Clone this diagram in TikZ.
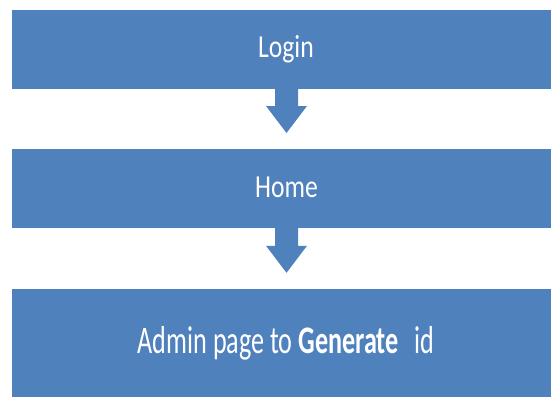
\documentclass[tikz,border=0pt]{standalone}
\usepackage{fontspec}
\usepackage{graphicx}
\setmainfont{Carlito}
\usetikzlibrary{calc}
\definecolor{boxblue}{HTML}{4F81BD}
\newcommand\blockarrowfrom[1]{%
  \fill[boxblue] ($(#1.south)+(-11.5,-1)$) -- ($(#1.south)+(-11.5,17.5)$)
    -- ($(#1.south)+(-20.5,17.5)$) -- ($(#1.south)+(0,44.5)$)
    -- ($(#1.south)+(20.5,17.5)$) -- ($(#1.south)+(11.5,17.5)$)
    -- ($(#1.south)+(11.5,-1)$) -- cycle;}
\begin{document}
\begin{tikzpicture}[x=1pt,y=-1pt,
  box/.style={fill=boxblue, draw=none, minimum width=549pt, inner sep=0pt, outer sep=0pt, anchor=north west},
  lbl/.style={text=white, inner sep=0pt, anchor=base},
  small/.style={font=\fontsize{32}{38}\selectfont},
  big/.style={font=\fontsize{39}{46}\selectfont}]
\useasboundingbox (0,0) rectangle (551,396);
\clip (0,0) rectangle (551,396);
\node[box, minimum height=78.5pt] (b1) at (12,10) {};
\node[box, minimum height=79.3pt] (b2) at (12,149) {};
\node[box, minimum height=120pt] (b3) at (12,289) {};
\blockarrowfrom{b1}
\blockarrowfrom{b2}
\node[lbl, small] (t1) at (286,57.7) {\scalebox{0.8}[1]{Login}};
\node[lbl, small] (t2) at (286.5,197.3) {\scalebox{0.8}[1]{Home}};
\node[lbl, big] (t3) at (286,353) {\scalebox{0.67}[1]{Admin page to \textbf{Generate}\hspace{0.6em}id}};
\end{tikzpicture}
\end{document}
